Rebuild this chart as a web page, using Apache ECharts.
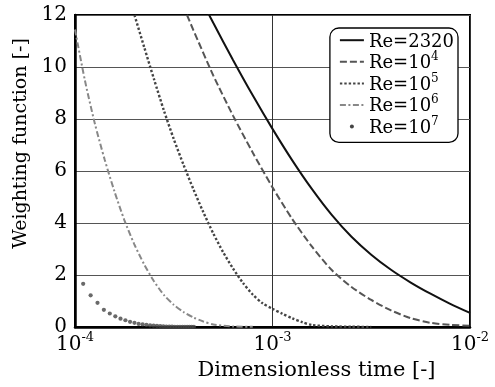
<!DOCTYPE html>
<html>
<head>
<meta charset="utf-8">
<script src="https://cdn.jsdelivr.net/npm/echarts@6/dist/echarts.min.js"></script>
<style>
  html, body { margin: 0; padding: 0; background: #fff; }
  #chart { width: 495px; height: 387px; }
</style>
</head>
<body>
<div id="chart"></div>
<script>
// Weighting function W(t) against dimensionless time, one curve per Reynolds number
const FONT = '"DejaVu Serif", "Liberation Serif", serif';

const t2320 = [4.67e-4, 5.01e-4, 6.31e-4, 7.94e-4, 1.0e-3, 1.259e-3, 1.585e-3, 1.995e-3, 2.512e-3, 3.162e-3, 3.981e-3, 5.012e-3, 6.31e-3, 7.943e-3, 1.0e-2];
const w2320 = [12.15, 11.70, 10.27, 8.91, 7.62, 6.41, 5.30, 4.31, 3.47, 2.78, 2.20, 1.71, 1.28, 0.89, 0.54];

const t1e4 = [3.69e-4, 3.98e-4, 5.01e-4, 6.31e-4, 7.94e-4, 1.0e-3, 1.259e-3, 1.585e-3, 1.995e-3, 2.512e-3, 3.162e-3, 3.981e-3, 5.012e-3, 6.31e-3, 7.943e-3, 1.0e-2];
const w1e4 = [12, 11.41, 9.68, 8.13, 6.71, 5.37, 4.15, 3.09, 2.19, 1.54, 1.04, 0.64, 0.34, 0.16, 0.08, 0.05];

const t1e5 = [2.0e-4, 2.239e-4, 2.512e-4, 2.818e-4, 3.162e-4, 3.548e-4, 3.981e-4, 4.467e-4, 5.012e-4, 5.623e-4, 6.31e-4,
              7.079e-4, 7.943e-4, 8.913e-4, 1.0e-3, 1.122e-3, 1.259e-3, 1.413e-3, 1.585e-3, 1.995e-3, 2.512e-3, 3.162e-3];
const w1e5 = [12, 10.77, 9.53, 8.33, 7.23, 6.23, 5.29, 4.41, 3.60, 2.88, 2.25,
              1.70, 1.25, 0.91, 0.70, 0.51, 0.335, 0.185, 0.075, 0.025, 0.01, 0.004];

const t1e6 = [1.0e-4, 1.122e-4, 1.259e-4, 1.413e-4, 1.585e-4, 1.778e-4, 1.995e-4, 2.239e-4, 2.512e-4, 2.818e-4,
              3.162e-4, 3.548e-4, 3.981e-4, 4.467e-4, 5.012e-4, 6.31e-4, 7.943e-4];
const w1e6 = [11.44, 9.49, 7.84, 6.44, 5.21, 4.11, 3.19, 2.41, 1.76, 1.235,
              0.855, 0.575, 0.365, 0.21, 0.10, 0.02, 0.005];

const t1e7 = [1.1e-4, 1.2e-4, 1.3e-4, 1.4e-4, 1.5e-4, 1.6e-4, 1.7e-4, 1.8e-4, 1.9e-4, 2.0e-4,
              2.1e-4, 2.2e-4, 2.3e-4, 2.4e-4, 2.5e-4, 2.6e-4, 2.7e-4, 2.8e-4, 2.9e-4, 3.0e-4,
              3.1e-4, 3.2e-4, 3.3e-4, 3.4e-4, 3.5e-4, 3.6e-4, 3.7e-4, 3.8e-4, 3.9e-4, 4.0e-4];
const w1e7 = [1.66, 1.22, 0.93, 0.66, 0.52, 0.41, 0.32, 0.26, 0.20, 0.16,
              0.12, 0.10, 0.08, 0.06, 0.05, 0.04, 0.03, 0.025, 0.02, 0.015,
              0.012, 0.01, 0.008, 0.006, 0.005, 0.004, 0.003, 0.003, 0.002, 0.002];

// Legend text: base and exponent of each Reynolds number
const seriesNames = ['Re=2320', 'Re=1e4', 'Re=1e5', 'Re=1e6', 'Re=1e7'];
const reBase = ['2320', '10', '10', '10', '10'];
const reExp = ['', '4', '5', '6', '7'];

const xMin = 1e-4, xMax = 1e-2;
const yMin = 0, yMax = 12, yStep = 2;

function pairs(t, w) { return t.map((x, i) => [x, w[i]]); }

const chart = echarts.init(document.getElementById('chart'), null, { renderer: 'canvas' });

const lineBase = { type: 'line', showSymbol: false, symbol: 'none', smooth: 0.25, clip: true };

chart.setOption({
  animation: false,
  backgroundColor: '#fff',
  grid: { left: 75, right: 25, top: 15, bottom: 60, show: true, borderColor: '#000', borderWidth: 2, backgroundColor: 'transparent' },
  xAxis: {
    type: 'log', logBase: 10, min: xMin, max: xMax,
    name: 'Dimensionless time [-]', nameLocation: 'middle', nameGap: 30,
    nameTextStyle: { fontFamily: FONT, fontSize: 21, color: '#000', padding: [0, 0, 0, 88] },
    axisLine: { show: true, lineStyle: { color: '#000', width: 2.5 } },
    axisTick: { show: false },
    splitLine: { show: true, lineStyle: { color: '#333', width: 1 } },
    axisLabel: {
      margin: 4,
      formatter: v => '{b|10}{s|' + Math.round(Math.log10(v)) + '}',
      rich: {
        b: { fontFamily: FONT, fontSize: 20, color: '#000', lineHeight: 24, verticalAlign: 'bottom' },
        s: { fontFamily: FONT, fontSize: 13, color: '#000', lineHeight: 24, verticalAlign: 'top' }
      }
    }
  },
  yAxis: {
    type: 'value', min: yMin, max: yMax, interval: yStep,
    name: 'Weighting function [-]', nameLocation: 'middle', nameGap: 42,
    nameTextStyle: { fontFamily: FONT, fontSize: 19, color: '#000', padding: [0, 0, 0, 55] },
    axisLine: { show: true, lineStyle: { color: '#000', width: 2.5 } },
    axisTick: { show: false },
    splitLine: { show: true, lineStyle: { color: '#555', width: 1 } },
    axisLabel: { margin: 8, fontFamily: FONT, fontSize: 20, color: '#000' }
  },
  legend: {
    orient: 'vertical', right: 37, top: 28,
    itemWidth: 24, itemHeight: 14, itemGap: 0,
    padding: [5, 4, 5, 9],
    backgroundColor: '#fff', borderColor: '#000', borderWidth: 1.3, borderRadius: 9,
    // line items show only their stroke; the scatter item keeps its dot
    itemStyle: { opacity: 0 },
    data: seriesNames.map((n, i) => i === 4
      ? { name: n, icon: 'path://M0,0M24,14M10,7a2,2 0 1,0 4,0a2,2 0 1,0 -4,0', itemStyle: { opacity: 1, color: '#444' } }
      : { name: n }),
    formatter: name => {
      const i = seriesNames.indexOf(name);
      return '{t|Re=' + reBase[i] + '}' + (reExp[i] ? '{s|' + reExp[i] + '}' : '');
    },
    textStyle: {
      rich: {
        t: { fontFamily: FONT, fontSize: 18, color: '#000', lineHeight: 21.6, verticalAlign: 'bottom' },
        s: { fontFamily: FONT, fontSize: 12, color: '#000', lineHeight: 21.6, verticalAlign: 'top' }
      }
    }
  },
  series: [
    Object.assign({}, lineBase, { name: seriesNames[0], data: pairs(t2320, w2320), z: 5,
      lineStyle: { color: '#111', width: 2, type: 'solid' }, itemStyle: { color: '#111' } }),
    Object.assign({}, lineBase, { name: seriesNames[1], data: pairs(t1e4, w1e4), z: 4,
      lineStyle: { color: '#555', width: 2, type: [7, 3] }, itemStyle: { color: '#555' } }),
    Object.assign({}, lineBase, { name: seriesNames[2], data: pairs(t1e5, w1e5), z: 3,
      lineStyle: { color: '#444', width: 2.4, type: [2.4, 2] }, itemStyle: { color: '#444' } }),
    Object.assign({}, lineBase, { name: seriesNames[3], data: pairs(t1e6, w1e6), z: 3,
      lineStyle: { color: '#888', width: 2, type: [6, 2.5, 2, 2.5] }, itemStyle: { color: '#888' } }),
    { type: 'scatter', name: seriesNames[4], data: pairs(t1e7, w1e7), symbol: 'circle', symbolSize: 4.2, z: 3,
      itemStyle: { color: '#444' } }
  ]
});
</script>
</body>
</html>
